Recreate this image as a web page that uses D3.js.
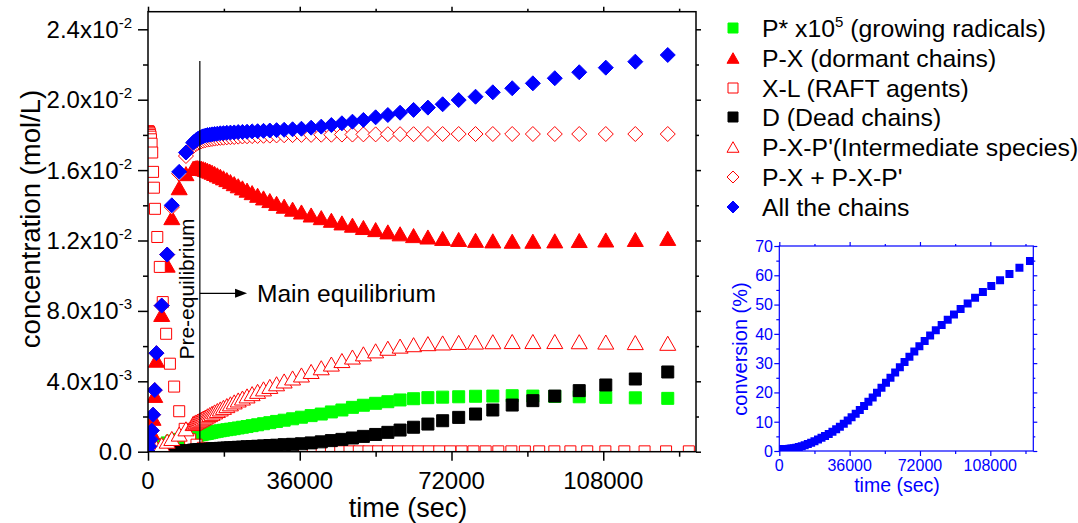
<!DOCTYPE html>
<html>
<head>
<meta charset="utf-8">
<script src="https://cdn.jsdelivr.net/npm/d3@7"></script>
<style>
  body { margin: 0; background: #fff; }
  svg { display: block; }
  text { font-family: "Liberation Sans", Arial, sans-serif; }
</style>
</head>
<body>
<div id="chart"></div>
<script>
// time points (sec) shared by the kinetic curves of the main plot
const timeMain = [0, 300, 600, 900, 1200, 1600, 2000, 3250, 4550, 5650, 7400, 9000, 10700,
  11000, 11400, 11800, 12200, 12650, 13100, 13600, 14100, 14650, 15200, 15800, 16450, 17150, 17900,
  18700, 19550, 20450, 21400, 22400, 23500, 24700, 26000, 27400, 28900, 30500, 32300, 34300, 36400,
  38700, 41100, 43500, 46000, 48500, 51100, 54000, 56900, 59800, 63000, 66400, 69900, 73700, 77700,
  81800, 86400, 91300, 96500, 102300, 108600, 115600, 123300];

// P* x 1e5 (growing radicals)
const radicals = [0, 0.00005, 0.0001, 0.00015, 0.0002, 0.00025, 0.0003, 0.0004, 0.0005, 0.0006, 0.0007, 0.0008, 0.00088,
  0.0009, 0.00092, 0.00094, 0.00096, 0.00098, 0.001, 0.00102, 0.00104, 0.00107, 0.0011, 0.00113, 0.00116, 0.00119, 0.00122,
  0.00125, 0.00128, 0.00131, 0.00135, 0.00139, 0.00143, 0.00148, 0.00153, 0.00159, 0.00165, 0.00172, 0.00179, 0.00187, 0.00196,
  0.00205, 0.00214, 0.00226, 0.00237, 0.00252, 0.00264, 0.00275, 0.00284, 0.00294, 0.00301, 0.00307, 0.0031, 0.00312, 0.00315,
  0.00316, 0.00318, 0.00316, 0.00314, 0.00312, 0.00309, 0.00306, 0.00303];

// P-X (dormant chains)
const dormant = [0, 0.0003, 0.0007, 0.0011, 0.0019, 0.0032, 0.0052, 0.0078, 0.0106, 0.0133, 0.015, 0.0158, 0.0161,
  0.01612, 0.01614, 0.01614, 0.01613, 0.01611, 0.01608, 0.01604, 0.01599, 0.01594, 0.01588, 0.01581, 0.01573, 0.01565, 0.01556,
  0.01546, 0.01535, 0.01523, 0.01511, 0.01499, 0.01486, 0.01472, 0.01457, 0.01442, 0.01427, 0.01411, 0.01395, 0.01378, 0.01362,
  0.01345, 0.0133, 0.01315, 0.013, 0.01287, 0.01274, 0.01262, 0.01249, 0.01238, 0.01228, 0.0122, 0.01212, 0.01206, 0.01201,
  0.01198, 0.01196, 0.01196, 0.01198, 0.012, 0.01203, 0.01206, 0.01212];

// D (dead chains)
const dead = [0, 0, 0, 0, 0, 0, 0, 0.00001, 0.00002, 0.00003, 0.00004, 0.00006, 0.00008,
  0.00009, 0.0001, 0.0001, 0.00011, 0.00012, 0.00012, 0.00013, 0.00014, 0.00015, 0.00016, 0.00017, 0.00018, 0.00019, 0.0002,
  0.00021, 0.00022, 0.00023, 0.00025, 0.00026, 0.00028, 0.00029, 0.00031, 0.00033, 0.00035, 0.00037, 0.0004, 0.00042, 0.00045,
  0.0005, 0.00056, 0.00063, 0.0007, 0.00078, 0.00087, 0.00098, 0.0011, 0.00123, 0.00139, 0.00157, 0.00176, 0.00195, 0.00214,
  0.00237, 0.00265, 0.0029, 0.00316, 0.00347, 0.00379, 0.00413, 0.00453];

// P-X-P' (intermediate species)
const intermediate = [0, 0.00001, 0.00003, 0.00006, 0.0001, 0.00016, 0.00022, 0.0004, 0.0006, 0.00075, 0.001, 0.0013, 0.0016,
  0.00164, 0.00169, 0.00174, 0.00179, 0.00185, 0.00191, 0.00197, 0.00204, 0.00211, 0.00218, 0.00226, 0.00234, 0.00243, 0.00252,
  0.00262, 0.00272, 0.00283, 0.00294, 0.00305, 0.00317, 0.0033, 0.00343, 0.00357, 0.00371, 0.00386, 0.00402, 0.00419, 0.00436,
  0.00456, 0.00477, 0.00498, 0.00518, 0.00538, 0.00556, 0.00573, 0.00588, 0.006, 0.00608, 0.00614, 0.00618, 0.00621, 0.00623,
  0.00625, 0.00626, 0.00626, 0.00626, 0.00625, 0.00623, 0.0062, 0.00616];

// P-X + P-X-P'
const dormantPlusInt = [0, 0.0003, 0.0007, 0.0012, 0.0021, 0.0035, 0.0056, 0.0083, 0.0112, 0.0139, 0.0158, 0.0168, 0.01735,
  0.01742, 0.01749, 0.01755, 0.0176, 0.01764, 0.01767, 0.0177, 0.01773, 0.01775, 0.01777, 0.01779, 0.01781, 0.01783, 0.01784,
  0.01786, 0.01787, 0.01788, 0.0179, 0.01791, 0.01792, 0.01793, 0.01794, 0.01795, 0.01796, 0.01797, 0.01798, 0.01799, 0.018,
  0.018, 0.01801, 0.01801, 0.01802, 0.01802, 0.01803, 0.01803, 0.01804, 0.01804, 0.01804, 0.01805, 0.01805, 0.01805, 0.01805,
  0.01805, 0.01805, 0.01805, 0.01805, 0.01805, 0.01805, 0.01805, 0.01805];

// All the chains
const allChains = [0, 0.0003, 0.0007, 0.0012, 0.0021, 0.0035, 0.0056, 0.0083, 0.0112, 0.014, 0.0159, 0.017, 0.01755,
  0.01762, 0.0177, 0.01777, 0.01783, 0.01788, 0.01792, 0.01796, 0.01799, 0.01801, 0.01803, 0.01805, 0.01807, 0.01809, 0.0181,
  0.01812, 0.01813, 0.01814, 0.01816, 0.01817, 0.01818, 0.0182, 0.01821, 0.01823, 0.01825, 0.01827, 0.01829, 0.01832, 0.01835,
  0.01841, 0.01847, 0.01856, 0.01866, 0.01875, 0.01885, 0.019, 0.01913, 0.01926, 0.01942, 0.01955, 0.01974, 0.01998, 0.02017,
  0.02042, 0.02065, 0.02093, 0.02122, 0.02156, 0.02182, 0.02216, 0.02254];

// denser time points used by the RAFT agent curve and the conversion inset
const timeFine = [0, 100, 200, 300, 400, 500, 600, 700, 850, 1000, 1200, 1400, 1650,
  2200, 2800, 3500, 4300, 5200, 6200, 7400, 8700, 10000,
  11500, 13000, 14600, 16300, 18000, 19800, 21600, 23400, 25300, 27200, 29100, 31000, 33000, 35000,
  37000, 39100, 41200, 43400, 45600, 47800, 50000, 52300, 54600, 56900,
  59300, 61700, 64100, 66600, 69100, 71700, 74400, 77200, 80100, 83100,
  86200, 89400, 92800, 96400, 100200, 104200, 108500, 113000, 117800, 122900, 128300];

// X-L (RAFT agents)
const raftAgent = [0.0182, 0.0182, 0.01818, 0.01814, 0.01808, 0.018, 0.0179, 0.01775, 0.0175, 0.017, 0.0159, 0.015, 0.0138,
  0.0122, 0.0105, 0.0085, 0.0067, 0.005, 0.0037, 0.0023, 0.0013, 0.0007,
  0.0004, 0.00022, 0.00012, 0.00007, 0.00004, 0.00003, 0.00002, 0.00002, 0.00002, 0.00002, 0.00002, 0.00002, 0.00002, 0.00002,
  0.00002, 0.00002, 0.00002, 0.00002, 0.00002, 0.00002, 0.00002, 0.00002, 0.00002, 0.00002,
  0.00002, 0.00002, 0.00002, 0.00002, 0.00002, 0.00002, 0.00002, 0.00002, 0.00002, 0.00002,
  0.00002, 0.00002, 0.00002, 0.00002, 0.00002, 0.00002, 0.00002, 0.00002, 0.00002, 0.00002, 0.00002];

// monomer conversion (%)
const conversion = [0.5, 0.5, 0.5, 0.5, 0.5, 0.5, 0.5, 0.5, 0.5, 0.5, 0.5, 0.5, 0.5,
  0.55, 0.6, 0.65, 0.7, 0.75, 0.85, 0.95, 1.1, 1.35,
  1.65, 2.0, 2.4, 2.85, 3.35, 3.9, 4.5, 5.1, 5.8, 6.6, 7.4, 8.3, 9.3, 10.4,
  11.5, 12.7, 14.0, 15.4, 16.8, 18.3, 19.9, 21.6, 23.3, 25.0,
  26.8, 28.6, 30.4, 32.2, 34.0, 35.8, 37.6, 39.4, 41.2, 43.0,
  44.8, 46.6, 48.5, 50.4, 52.3, 54.3, 56.3, 58.3, 60.4, 62.6, 64.9];

// tick labels
const xTicks = [0, 36000, 72000, 108000];
const xMinor = [18000, 54000, 90000, 126000];
const yTicks = [0, 0.004, 0.008, 0.012, 0.016, 0.020, 0.024];
const yMinor = [0.002, 0.006, 0.010, 0.014, 0.018, 0.022];
const yMantissa = ['0.0', '4.0x10', '8.0x10', '1.2x10', '1.6x10', '2.0x10', '2.4x10'];
const yExponent = ['', '-3', '-3', '-2', '-2', '-2', '-2'];
const insetYTicks = [0, 10, 20, 30, 40, 50, 60, 70];
const insetYMinor = [5, 15, 25, 35, 45, 55, 65];

const legendNames = ['P* x10', 'P-X (dormant chains)', 'X-L (RAFT agents)', 'D (Dead chains)',
  "P-X-P'(Intermediate species)", "P-X + P-X-P'", 'All the chains'];

const W = 1078, H = 523;
const svg = d3.select('#chart').append('svg').attr('width', W).attr('height', H);

// symbols, Origin style (diamond is a square on its tip, triangle centred on its box)
const symDiamond = {
  draw(ctx, size) {
    const r = Math.sqrt(size) / 2;
    ctx.moveTo(0, -r); ctx.lineTo(r, 0); ctx.lineTo(0, r); ctx.lineTo(-r, 0); ctx.closePath();
  }
};
const symTriangle = {
  draw(ctx, size) {
    const w = Math.sqrt(size), h = w * 0.88;
    ctx.moveTo(0, -h / 2); ctx.lineTo(w / 2, h / 2); ctx.lineTo(-w / 2, h / 2); ctx.closePath();
  }
};
const symSquare = {
  draw(ctx, size) {
    const s = Math.sqrt(size) / 2;
    ctx.rect(-s, -s, 2 * s, 2 * s);
  }
};

// ---------- main plot ----------
const x = d3.scaleLinear().domain([0, 130000]).range([148, 696]);
const y = d3.scaleLinear().domain([0, 0.025]).range([451.7, 11.7]);

svg.append('clipPath').attr('id', 'clipMain')
  .append('rect').attr('x', 148).attr('y', 11.7).attr('width', 548).attr('height', 440);

const series = [
  { t: timeMain, v: radicals, sym: symSquare, size: 12, fill: '#00ff00', stroke: '#00ff00' },
  { t: timeMain, v: dormant, sym: symTriangle, size: 16, fill: '#ff0000', stroke: '#ff0000' },
  { t: timeFine, v: raftAgent, sym: symSquare, size: 11, fill: '#fff', stroke: '#ff0000' },
  { t: timeMain, v: dead, sym: symSquare, size: 12, fill: '#000', stroke: '#000' },
  { t: timeMain, v: intermediate, sym: symTriangle, size: 16, fill: '#fff', stroke: '#ff0000' },
  { t: timeMain, v: dormantPlusInt, sym: symDiamond, size: 15, fill: '#fff', stroke: '#ff0000' },
  { t: timeMain, v: allChains, sym: symDiamond, size: 15, fill: '#0000ff', stroke: '#0000ff' }
];

const plot = svg.append('g').attr('clip-path', 'url(#clipMain)');
series.forEach(s => {
  plot.append('g').selectAll('path').data(s.v).join('path')
    .attr('transform', (d, i) => `translate(${x(s.t[i])},${y(d)})`)
    .attr('d', d3.symbol(s.sym, s.size * s.size))
    .attr('fill', s.fill)
    .attr('stroke', s.stroke)
    .attr('stroke-width', 1);
});

function ticks(g, axisFn, scale, values, size, color, sw) {
  g.call(axisFn(scale).tickValues(values).tickSize(size).tickFormat(''))
    .call(a => a.select('.domain').remove())
    .call(a => a.selectAll('line').attr('stroke', color).attr('stroke-width', sw));
}

const axes = svg.append('g');
ticks(axes.append('g').attr('transform', 'translate(0,451.7)'), d3.axisBottom, x, xTicks, 9, '#000', 1.5);
ticks(axes.append('g').attr('transform', 'translate(0,451.7)'), d3.axisBottom, x, xMinor, 5, '#000', 1.5);
ticks(axes.append('g').attr('transform', 'translate(0,11.7)'), d3.axisTop, x, xTicks, 5, '#000', 1.5);
ticks(axes.append('g').attr('transform', 'translate(0,11.7)'), d3.axisTop, x, xMinor, 3, '#000', 1.5);
ticks(axes.append('g').attr('transform', 'translate(148,0)'), d3.axisLeft, y, yTicks, 10, '#000', 1.5);
ticks(axes.append('g').attr('transform', 'translate(148,0)'), d3.axisLeft, y, yMinor, 5, '#000', 1.5);
ticks(axes.append('g').attr('transform', 'translate(696,0)'), d3.axisRight, y, yTicks, 5, '#000', 1.5);
ticks(axes.append('g').attr('transform', 'translate(696,0)'), d3.axisRight, y, yMinor, 3, '#000', 1.5);

svg.append('rect').attr('x', 148).attr('y', 11.7).attr('width', 548).attr('height', 440)
  .attr('fill', 'none').attr('stroke', '#000').attr('stroke-width', 1.5);

// tick labels
svg.append('g').selectAll('text').data(xTicks).join('text')
  .attr('x', d => x(d)).attr('y', 489)
  .attr('text-anchor', 'middle').attr('font-size', 24).attr('fill', '#000')
  .text(d => d);

const yLab = svg.append('g').selectAll('text').data(yTicks).join('text')
  .attr('x', 132).attr('y', d => y(d) + 8.5)
  .attr('text-anchor', 'end').attr('font-size', 24).attr('fill', '#000');
yLab.append('tspan').text((d, i) => yMantissa[i]);
yLab.append('tspan').attr('dy', -10).attr('font-size', 15).text((d, i) => yExponent[i]);

svg.append('text').attr('x', 408).attr('y', 517).attr('text-anchor', 'middle')
  .attr('font-size', 27).text('time (sec)');
svg.append('text').attr('transform', 'translate(40,219) rotate(-90)').attr('text-anchor', 'middle')
  .attr('font-size', 27.5).text('concentration (mol/L)');

// annotations
const tPre = 12300;
svg.append('line').attr('x1', x(tPre)).attr('x2', x(tPre)).attr('y1', y(0.0222)).attr('y2', y(0))
  .attr('stroke', '#000').attr('stroke-width', 1.2);
svg.append('text').attr('transform', `translate(${x(tPre) - 6},289) rotate(-90)`)
  .attr('text-anchor', 'middle').attr('font-size', 21).text('Pre-equilibrium');
svg.append('line').attr('x1', x(tPre)).attr('x2', x(21400)).attr('y1', y(0.009)).attr('y2', y(0.009))
  .attr('stroke', '#000').attr('stroke-width', 1.2);
svg.append('path')
  .attr('d', `M${x(23500)},${y(0.009)} l-12,-4.5 l0,9 z`).attr('fill', '#000');
svg.append('text').attr('x', x(25850)).attr('y', y(0.009) + 9).attr('font-size', 24.6).text('Main equilibrium');

// ---------- legend ----------
const legRows = [28, 58, 88, 117, 147, 177, 207];
const leg = svg.append('g');
series.forEach((s, i) => {
  const sz = s.sym === symSquare ? 10 : 12;
  leg.append('path')
    .attr('transform', `translate(733,${legRows[i]})`)
    .attr('d', d3.symbol(s.sym, sz * sz))
    .attr('fill', s.fill).attr('stroke', s.stroke).attr('stroke-width', 1);
  const t = leg.append('text').attr('x', 762).attr('y', legRows[i] + 8.7).attr('font-size', 24.8);
  t.append('tspan').text(legendNames[i]);
  if (i === 0) {
    t.append('tspan').attr('dy', -10).attr('font-size', 15).text('5');
    t.append('tspan').attr('dy', 10).text(' (growing radicals)');
  }
});

// ---------- inset: conversion ----------
const blue = '#0000ff';
const xi = d3.scaleLinear().domain([0, 130000]).range([779.3, 1033.3]);
const yi = d3.scaleLinear().domain([0, 70]).range([451, 246]);

svg.append('clipPath').attr('id', 'clipInset')
  .append('rect').attr('x', 779.3).attr('y', 246).attr('width', 254).attr('height', 205);

svg.append('g').attr('clip-path', 'url(#clipInset)')
  .selectAll('path').data(conversion).join('path')
  .attr('transform', (d, i) => `translate(${xi(timeFine[i])},${yi(d)})`)
  .attr('d', d3.symbol(symSquare, 64))
  .attr('fill', blue);

const ia = svg.append('g');
ticks(ia.append('g').attr('transform', 'translate(0,451)'), d3.axisBottom, xi, xTicks, 5, blue, 1.2);
ticks(ia.append('g').attr('transform', 'translate(0,451)'), d3.axisBottom, xi, xMinor, 3, blue, 1.2);
ticks(ia.append('g').attr('transform', 'translate(0,246)'), d3.axisTop, xi, xTicks, 4, blue, 1.2);
ticks(ia.append('g').attr('transform', 'translate(0,246)'), d3.axisTop, xi, xMinor, 2, blue, 1.2);
ticks(ia.append('g').attr('transform', 'translate(779.3,0)'), d3.axisLeft, yi, insetYTicks, 5, blue, 1.2);
ticks(ia.append('g').attr('transform', 'translate(779.3,0)'), d3.axisLeft, yi, insetYMinor, 3, blue, 1.2);
ticks(ia.append('g').attr('transform', 'translate(1033.3,0)'), d3.axisRight, yi, insetYTicks, 4, blue, 1.2);
ticks(ia.append('g').attr('transform', 'translate(1033.3,0)'), d3.axisRight, yi, insetYMinor, 2, blue, 1.2);
svg.append('rect').attr('x', 779.3).attr('y', 246).attr('width', 254).attr('height', 205)
  .attr('fill', 'none').attr('stroke', blue).attr('stroke-width', 1.2);

svg.append('g').selectAll('text').data(xTicks).join('text')
  .attr('x', d => xi(d)).attr('y', 470.5).attr('text-anchor', 'middle')
  .attr('font-size', 16).attr('fill', blue).text(d => d);
svg.append('g').selectAll('text').data(insetYTicks).join('text')
  .attr('x', 773).attr('y', d => yi(d) + 5.8).attr('text-anchor', 'end')
  .attr('font-size', 16).attr('fill', blue).text(d => d);
svg.append('text').attr('x', 897).attr('y', 492).attr('text-anchor', 'middle')
  .attr('font-size', 19.5).attr('fill', blue).text('time (sec)');
svg.append('text').attr('transform', 'translate(747,349) rotate(-90)').attr('text-anchor', 'middle')
  .attr('font-size', 20).attr('fill', blue).text('conversion (%)');
</script>
</body>
</html>
